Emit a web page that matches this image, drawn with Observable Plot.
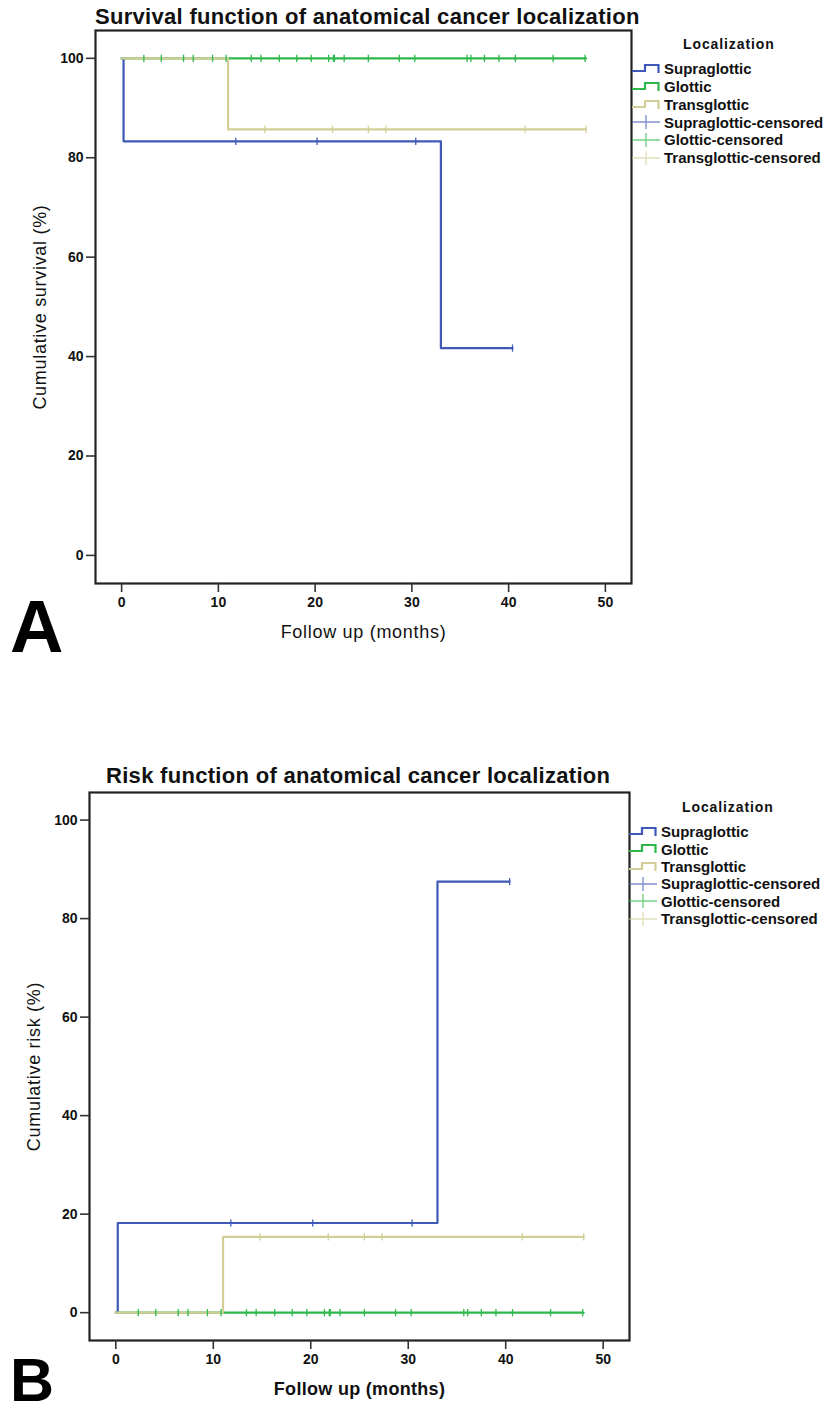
<!DOCTYPE html>
<html>
<head>
<meta charset="utf-8">
<script src="https://cdn.jsdelivr.net/npm/d3@7"></script>
<script src="https://cdn.jsdelivr.net/npm/@observablehq/plot@0.6"></script>
<style>
  body { margin: 0; background: #fff; }
  #root { position: relative; width: 826px; height: 1414px; overflow: hidden; font-family: "Liberation Sans", Arial, sans-serif; color: #111; }
  .panel { position: absolute; left: 0; }
  .title { position: absolute; font-weight: bold; font-size: 22px; line-height: 22px; letter-spacing: 0.3px; white-space: nowrap; }
  .letter { position: absolute; font-weight: bold; color: #000; }
  .legend { position: absolute; font-weight: bold; font-size: 15px; white-space: nowrap; }
  .legend .lt { position: absolute; font-size: 14px; letter-spacing: 0.9px; }
  .legend .row { position: absolute; left: 0; display: flex; align-items: center; }
  .legend .row svg { flex: none; }
  .legend .row span { margin-left: 4px; }
  svg g[aria-label="x-axis tick label"] text, svg g[aria-label="y-axis tick label"] text { font-weight: bold; font-size: 14px; }
  svg g[aria-label="x-axis label"] text, svg g[aria-label="y-axis label"] text { font-size: 18px; letter-spacing: 0.7px; font-weight: normal; }
  #B svg g[aria-label="x-axis label"] text { font-weight: bold; letter-spacing: 0.3px; }
</style>
</head>
<body>
<div id="root">
  <div class="panel" id="A" style="top:0"></div>
  <div class="panel" id="B" style="top:700px"></div>
</div>
<script>
// ---------------- data ----------------
const groups = ["Supraglottic", "Glottic", "Transglottic"];
const groupColors = ["#3e59b8", "#2eb84b", "#d3ce97"];

// step points (time in months)
const supraTimes = [0, 0.2, 33.0, 40.4];
const supraSurvival = [100, 83.3, 41.7, 41.7];
const supraRisk = [0, 18.2, 87.5, 87.5];

const glotTimes = [0, 48.0];
const glotSurvival = [100, 100];
const glotRisk = [0, 0];

const transTimes = [0, 11.0, 48.0];
const transSurvival = [100, 85.7, 85.7];
const transRisk = [0, 15.4, 15.4];

// censored times
const supraCensored = [11.8, 20.2, 30.4, 40.4];
const glotCensored = [2.3, 4.1, 6.4, 7.4, 9.4, 10.8, 13.4, 14.4, 16.3, 18.1, 19.6, 21.4, 21.9, 22.0, 23.0, 25.5, 28.7, 30.3, 35.7, 36.1, 37.5, 39.0, 40.7, 44.6, 47.9];
const transCensored = [14.8, 21.8, 25.5, 27.3, 41.7, 48.0];

const xTicks = [0, 10, 20, 30, 40, 50];
const yTicks = [0, 20, 40, 60, 80, 100];

const legendLabels = ["Supraglottic", "Glottic", "Transglottic", "Supraglottic-censored", "Glottic-censored", "Transglottic-censored"];

// ---------------- helpers ----------------
function stepValue(times, vals, t) {
  let v = vals[0];
  for (let i = 0; i < times.length; i++) if (times[i] <= t) v = vals[i];
  return v;
}
function buildTables(kind) {
  const sets = [
    [supraTimes, kind === "s" ? supraSurvival : supraRisk, supraCensored],
    [glotTimes, kind === "s" ? glotSurvival : glotRisk, glotCensored],
    [transTimes, kind === "s" ? transSurvival : transRisk, transCensored]
  ];
  const lines = [], cens = [];
  sets.forEach(([ts, vs, cs], gi) => {
    ts.forEach((t, i) => lines.push({group: groups[gi], t, v: vs[i]}));
    cs.forEach(t => cens.push({group: groups[gi], t, v: stepValue(ts, vs, t)}));
  });
  return {lines, cens};
}

const tickSymbol = {
  draw(context, size) {
    const r = Math.sqrt(size / Math.PI);
    context.moveTo(0, -r);
    context.lineTo(0, r);
  }
};

function makePlot(kind, opts) {
  const {lines, cens} = buildTables(kind);
  return Plot.plot({
    width: 826,
    height: opts.height,
    marginLeft: opts.left,
    marginRight: 826 - opts.right,
    marginTop: opts.top,
    marginBottom: opts.height - opts.bottom,
    style: {fontFamily: "'Liberation Sans', Arial, sans-serif", fontSize: "14px", color: "#111", background: "transparent", overflow: "visible"},
    x: {domain: [-2.7, 52.7], labelArrow: "none"},
    y: {domain: [-5.65, 105.6], labelArrow: "none"},
    color: {domain: groups, range: groupColors},
    marks: [
      Plot.line(lines, {x: "t", y: "v", z: "group", stroke: "group", strokeWidth: 2.2, curve: "step-after"}),
      Plot.dot(cens, {x: "t", y: "v", stroke: "group", fill: "none", symbol: tickSymbol, r: 3.6, strokeWidth: 1.3}),
      Plot.frame({stroke: "#222", strokeWidth: 2.2}),
      Plot.axisX({ticks: xTicks, tickSize: 9, tickPadding: 5, stroke: "#333", strokeWidth: 1.6, label: opts.xlabel, labelArrow: "none", labelAnchor: "center", labelOffset: opts.xLabelOffset}),
      Plot.axisY({ticks: yTicks, tickSize: 9, tickPadding: 3, stroke: "#333", strokeWidth: 1.6, label: opts.ylabel, labelArrow: "none", labelAnchor: "center", labelOffset: opts.yLabelOffset})
    ]
  });
}

document.getElementById("A").appendChild(makePlot("s", {
  height: 700, left: 95, right: 631, top: 30, bottom: 583,
  xlabel: "Follow up (months)", ylabel: "Cumulative survival (%)", xLabelOffset: 54, yLabelOffset: 62
}));
document.getElementById("B").appendChild(makePlot("r", {
  height: 714, left: 89, right: 629, top: 92, bottom: 640,
  xlabel: "Follow up (months)", ylabel: "Cumulative risk (%)", xLabelOffset: 54, yLabelOffset: 62
}));

// ---------------- titles, letters, legends ----------------
const root = document.getElementById("root");
function addDiv(cls, text, css) {
  const d = document.createElement("div");
  d.className = cls;
  d.textContent = text;
  Object.assign(d.style, css);
  root.appendChild(d);
  return d;
}
addDiv("title", "Survival function of anatomical cancer localization", {left: "95px", top: "6px"});
addDiv("title", "Risk function of anatomical cancer localization", {left: "106px", top: "765px"});
addDiv("letter", "A", {left: "10px", top: "597px", fontSize: "74px", lineHeight: "60px"});
addDiv("letter", "B", {left: "10px", top: "1355px", fontSize: "61px", lineHeight: "50px"});

function addLegend(left, top, titleLeft, titleTop, rowH) {
  const lg = document.createElement("div");
  lg.className = "legend";
  lg.style.left = left + "px";
  lg.style.top = top + "px";
  const t = document.createElement("div");
  t.className = "lt";
  t.textContent = "Localization";
  t.style.left = (titleLeft - left) + "px";
  t.style.top = (titleTop - top) + "px";
  t.style.lineHeight = rowH + "px";
  lg.appendChild(t);
  legendLabels.forEach((lab, i) => {
    const gi = i % 3;
    const col = groupColors[gi];
    const row = document.createElement("div");
    row.className = "row";
    row.style.top = (i * rowH) + "px";
    row.style.height = rowH + "px";
    const ns = "http://www.w3.org/2000/svg";
    const s = document.createElementNS(ns, "svg");
    s.setAttribute("width", 28);
    s.setAttribute("height", 18);
    const p = document.createElementNS(ns, "path");
    if (i < 3) {
      p.setAttribute("d", "M0,11 H13 V5 H26.5 V13");
      p.setAttribute("stroke-width", 2.2);
    } else {
      p.setAttribute("d", "M0,9 H28 M14,2 V16");
      p.setAttribute("stroke-width", 1.4);
      p.setAttribute("stroke-opacity", 0.65);
    }
    p.setAttribute("stroke", col);
    p.setAttribute("fill", "none");
    s.appendChild(p);
    row.appendChild(s);
    const sp = document.createElement("span");
    sp.textContent = lab;
    sp.style.lineHeight = rowH + "px";
    row.appendChild(sp);
    lg.appendChild(row);
  });
  root.appendChild(lg);
}
addLegend(632, 60.2, 683, 36.2, 17.8);
addLegend(629, 823.2, 682, 798.5, 17.4);
</script>
</body>
</html>
